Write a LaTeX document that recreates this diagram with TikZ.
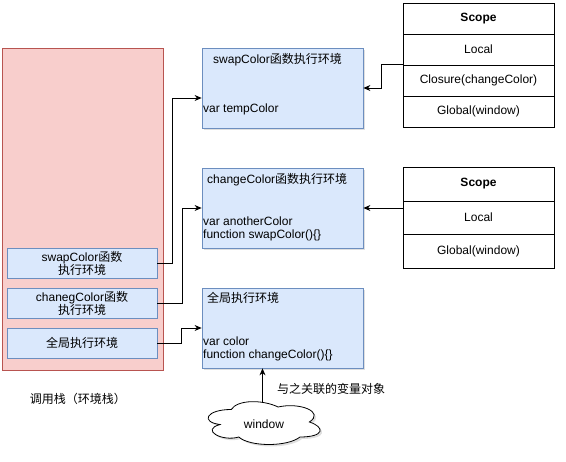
\documentclass[tikz,border=0pt]{standalone}
\usepackage{fontspec}
\setmainfont{Liberation Sans}
\newfontfamily\cjk{Noto Sans CJK SC}
\usetikzlibrary{arrows.meta,shadows}
\definecolor{pinkf}{HTML}{F8CECC}
\definecolor{pinkd}{HTML}{B85450}
\definecolor{bluef}{HTML}{DAE8FC}
\definecolor{blued}{HTML}{6C8EBF}
\newcommand\zh[1]{{\cjk #1}}
\tikzset{
  base/.style={font=\fontsize{12}{13}\selectfont},
  stackbox/.style={draw=pinkd, fill=pinkf, line width=0.8pt, minimum width=161pt, minimum height=322pt, inner sep=0},
  framebox/.style={draw=blued, fill=bluef, line width=0.8pt, minimum width=150pt, minimum height=30pt, inner sep=0, align=center},
  softshadow/.style={drop shadow={opacity=0.25, shadow xshift=2pt, shadow yshift=-2pt}},
  envbox/.style={draw=blued, fill=bluef, line width=0.8pt, minimum width=161pt, minimum height=80pt, inner sep=0, softshadow},
  txt/.style={inner sep=0, anchor=west, align=left},
  cell/.style={draw=black, fill=white, line width=0.8pt, minimum width=151pt, inner sep=0},
  arr/.style={line width=0.8pt, -{Stealth[length=7pt,width=6pt]}},
  cloudline/.style={draw=black, fill=white, line width=0.8pt, softshadow},
}
\begin{document}
\begin{tikzpicture}[x=1pt,y=-1pt,base]
\useasboundingbox (0,0) rectangle (566,462);
% call stack
\node[stackbox] (stack) at (82.5,209) {};
\node[framebox] (s1) at (82,263) {swapColor\zh{函数}\\\zh{执行环境}};
\node[framebox] (s2) at (82,303) {chanegColor\zh{函数}\\\zh{执行环境}};
\node[framebox] (s3) at (82,343) {\zh{全局执行环境}};
\node[inner sep=0] (stlabel) at (78,399) {\zh{调用栈（环境栈）}};
% environments
\node[envbox] (A) at (282.5,88) {};
\node[envbox] (B) at (282.5,208) {};
\node[envbox] (C) at (282.5,328) {};
\node[txt] (At) at (213,60) {swapColor\zh{函数执行环境}};
\node[txt] (Ab) at (203,109) {var tempColor};
\node[txt] (Bt) at (207,180) {changeColor\zh{函数执行环境}};
\node[txt] (Bb) at (203,228.5) {var anotherColor\\function swapColor()\{\}};
\node[txt] (Ct) at (207,298) {\zh{全局执行环境}};
\node[txt] (Cb) at (203,348.5) {var color\\function changeColor()\{\}};
% scope table 1
\node[cell, minimum height=31pt] (t1a) at (478.5,18.5) {\textbf{Scope}};
\node[cell, minimum height=31pt] (t1b) at (478.5,49.5) {Local};
\node[cell, minimum height=31pt] (t1c) at (478.5,80.5) {Closure(changeColor)};
\node[cell, minimum height=31pt] (t1d) at (478.5,111.5) {Global(window)};
% scope table 2
\node[cell, minimum height=34pt] (t2a) at (478.5,184) {\textbf{Scope}};
\node[cell, minimum height=33pt] (t2b) at (478.5,217.5) {Local};
\node[cell, minimum height=34pt] (t2c) at (478.5,251) {Global(window)};
% window cloud
\begin{scope}[shift={(200,397)}, x=125pt, y=-50pt]
\path[cloudline] (0.25,0.25) .. controls (0.05,0.25) and (0,0.5) .. (0.16,0.55)
  .. controls (0,0.66) and (0.18,0.9) .. (0.31,0.8)
  .. controls (0.4,1) and (0.7,1) .. (0.8,0.8)
  .. controls (1,0.8) and (1,0.6) .. (0.875,0.5)
  .. controls (1,0.3) and (0.8,0.1) .. (0.625,0.2)
  .. controls (0.5,0.05) and (0.3,0.05) .. (0.25,0.25) -- cycle;
\end{scope}
\node[inner sep=0] (W) at (264,424) {window};
\coordinate (wtop) at (262.5,402);
\node[txt] (wl) at (277,389) {\zh{与之关联的变量对象}};
% connectors
\draw[arr] (s1.east) -- ++(15,0) |- ([yshift=-10pt]A.west);
\draw[arr] (s2.east) -- ++(25,0) |- (B.west);
\draw[arr] (s3.east) -- ++(24,0) |- (C.west);
\draw[arr] (t1c.north west) -- ++(-21,0) |- (A.east);
\draw[arr] (B.east -| t2b.west) -- (B.east);
\draw[arr] (wtop) -- (wtop |- C.south);
\end{tikzpicture}
\end{document}
